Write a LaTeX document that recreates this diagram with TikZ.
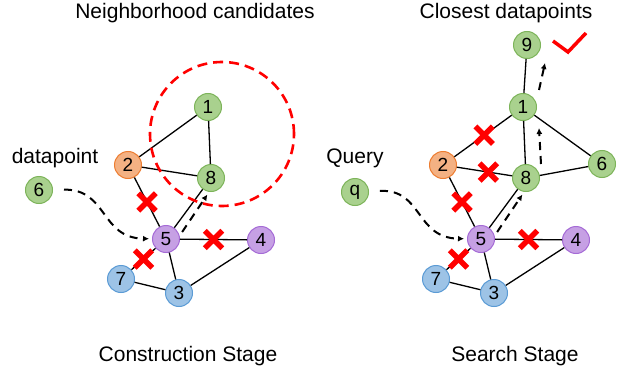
\documentclass[tikz,border=0pt]{standalone}
\usepackage{fontspec}
\setmainfont{Liberation Sans}
\usepackage{tikz}
\usetikzlibrary{arrows.meta,shapes.misc}
\definecolor{ptgreen}{HTML}{A9D18E}
\definecolor{ptgreenline}{HTML}{7DB45A}
\definecolor{ptorange}{HTML}{F4B183}
\definecolor{ptorangeline}{HTML}{ED7D31}
\definecolor{ptpurple}{HTML}{C6A0E4}
\definecolor{ptpurpleline}{HTML}{A56BD6}
\definecolor{ptblue}{HTML}{9DC3E6}
\definecolor{ptblueline}{HTML}{5B9BD5}
\definecolor{markred}{HTML}{FF0000}

\begin{document}
\begin{tikzpicture}[x=1pt,y=-1pt,
  every node/.style={font=\fontsize{21}{25}\selectfont,align=center},
  vtx/.style={circle,line width=1pt,minimum size=27pt,inner sep=0pt,font=\fontsize{19}{21}\selectfont},
  gvtx/.style={vtx,fill=ptgreen,draw=ptgreenline},
  ovtx/.style={vtx,fill=ptorange,draw=ptorangeline},
  pvtx/.style={vtx,fill=ptpurple,draw=ptpurpleline},
  bvtx/.style={vtx,fill=ptblue,draw=ptblueline},
  link/.style={line width=1.3pt},
  hop/.style={line width=2pt,dash pattern=on 8pt off 6pt,-{Latex[length=6pt,width=6pt]}},
  cut/.style={cross out,draw=markred,line width=5.5pt,minimum size=12pt,inner sep=0pt}]
  \useasboundingbox (0,0) rectangle (624,369);

  % titles
  \node[anchor=base] (ttlc) at (195,19) {Neighborhood candidates};
  \node[anchor=base] (ttls) at (506,19) {Closest datapoints};
  \node[anchor=base] (stgc) at (188,361) {Construction Stage};
  \node[anchor=base] (stgs) at (515,361) {Search Stage};
  \node[anchor=base] (lblc) at (55,163) {datapoint};
  \node[anchor=base] (lbls) at (355,163) {Query};

  % new point and query
  \node[gvtx] (c6) at (39,190) {6};
  \node[gvtx] (sq) at (355,192) {q};

  % graph shared by both stages
  \foreach \p/\dx/\src in {c/0/c6,s/315/sq}{
    \begin{scope}[xshift=\dx pt]
      \node[gvtx] (\p1) at (208,107) {1};
      \node[ovtx] (\p2) at (128,165) {2};
      \node[gvtx] (\p8) at (211,178) {8};
      \node[pvtx] (\p5) at (166,239) {5};
      \node[pvtx] (\p4) at (261,240) {4};
      \node[bvtx] (\p7) at (121,279) {7};
      \node[bvtx] (\p3) at (179,293) {3};
      \draw[link] (\p1) -- (\p8);
      \draw[link] (\p5) -- (\p8);
      \draw[link] (\p5) -- (\p3);
      \draw[link] (\p7) -- (\p3);
      \draw[link] (\p3) -- (\p4);
      \draw[link] (\p2) -- node[cut] (\p x25) {} (\p5);
      \draw[link] (\p5) -- node[cut] (\p x54) {} (\p4);
      \draw[link] (\p5) -- node[cut] (\p x57) {} (\p7);
      \draw[hop,shorten <=11pt,shorten >=3pt] (\src) .. controls (108,189) and (100,238) .. (\p5);
      \draw[hop] ([xshift=4pt]\p5.30) -- ([yshift=-3pt]\p8.-105);
    \end{scope}
  }

  % construction stage
  \draw[link] (c1) -- (c2);
  \draw[link] (c2) -- (c8);
  \draw[markred,line width=2.6pt,dash pattern=on 10pt off 6pt] (222,134) circle[radius=72pt];

  % search stage
  \node[gvtx] (s9) at (527,45) {9};
  \node[gvtx] (s6) at (602,164) {6};
  \draw[link] (s9) -- (s1);
  \draw[link] (s1) -- (s6);
  \draw[link] (s8) -- (s6);
  \draw[link] (s1) -- node[cut,pos=0.48] (sx12) {} (s2);
  \draw[link] (s2) -- node[cut,pos=0.57] (sx28) {} (s8);
  \draw[hop] ([xshift=15pt]s8.north) -- ([xshift=16pt,yshift=-7pt]s1.south);
  \draw[hop] ([xshift=16pt,yshift=3pt]s1.north) -- ([xshift=18pt,yshift=-4pt]s9.south);
  \draw[markred,line width=3.5pt] (553,41) -- (568,52) -- (586,33);
\end{tikzpicture}
\end{document}
